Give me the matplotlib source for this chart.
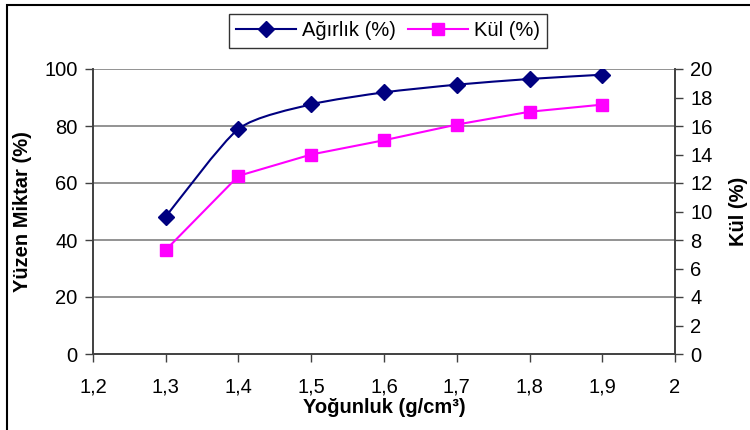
import matplotlib
matplotlib.use("Agg")
import matplotlib.pyplot as plt
from matplotlib.path import Path
from matplotlib.patches import PathPatch, Rectangle
from matplotlib.lines import Line2D
import numpy as np

plt.rcParams['font.family'] = ['Liberation Sans', 'DejaVu Sans']

density = [1.3, 1.4, 1.5, 1.6, 1.7, 1.8, 1.9]
agirlik = [48.2, 79.0, 87.6, 91.8, 94.5, 96.5, 98.0]
kul = [7.3, 12.5, 14.0, 15.0, 16.1, 17.0, 17.5]
xticks = [1.2, 1.3, 1.4, 1.5, 1.6, 1.7, 1.8, 1.9, 2.0]
xticklabels = ['1,2', '1,3', '1,4', '1,5', '1,6', '1,7', '1,8', '1,9', '2']

navy = '#000080'
magenta = '#FF00FF'
grid_c = '#808080'
fs = 14.5

fig = plt.figure(figsize=(7.5, 4.3), dpi=100)
ax = fig.add_axes([93/750, 1-354/430, (675-93)/750, (354-69)/430])
ax2 = ax.twinx()

ax.set_xlim(1.2, 2.0)
ax.set_ylim(0, 100)
ax2.set_ylim(0, 20)

for y in range(20, 101, 20):
    ax.axhline(y, color=grid_c, lw=1.2, zorder=0)

# smoothed line (bezier smoothing like Excel)
pts = np.column_stack([density, agirlik])
verts = [tuple(pts[0])]
codes = [Path.MOVETO]
n = len(pts)
k = 1 / 9
for i in range(n - 1):
    p0 = pts[i - 1] if i > 0 else pts[i]
    p1 = pts[i]
    p2 = pts[i + 1]
    p3 = pts[i + 2] if i + 2 < n else pts[i + 1]
    c1 = p1 + (p2 - p0) * k
    c2 = p2 - (p3 - p1) * k
    verts += [tuple(c1), tuple(c2), tuple(p2)]
    codes += [Path.CURVE4] * 3
patch = PathPatch(Path(verts, codes), fill=False, edgecolor=navy, lw=1.5,
                  transform=ax.transData, zorder=3)
ax.add_patch(patch)
ax.plot(density, agirlik, ls='none', marker='D', ms=8, color=navy, zorder=4)

ax2.plot(density, kul, color=magenta, lw=1.5, marker='s', ms=9, zorder=4)

ax.set_xticks(xticks)
ax.set_xticklabels(xticklabels)
ax.set_yticks(range(0, 101, 20))
ax2.set_yticks(range(0, 21, 2))

for a in (ax, ax2):
    a.spines['top'].set_visible(False)
    for s in a.spines.values():
        s.set_color('#404040')
        s.set_linewidth(1.2)
    a.tick_params(labelsize=fs, colors='black', length=6, width=1, color='#404040', pad=5)
ax.tick_params(axis='x', pad=11)
ax.tick_params(axis='both', direction='out')
ax2.tick_params(axis='y', direction='out')

ax.set_ylabel('Yüzen Miktar (%)', fontsize=fs, fontweight='bold', labelpad=9)
ax2.set_ylabel('Kül (%)', fontsize=fs, fontweight='bold', labelpad=12)
ax.set_xlabel('Yoğunluk (g/cm³)', fontsize=fs, fontweight='bold', labelpad=1)

h1 = Line2D([], [], color=navy, lw=1.5, marker='D', ms=8)
h2 = Line2D([], [], color=magenta, lw=1.5, marker='s', ms=9)
leg = fig.legend([h1, h2], ['Ağırlık (%)', 'Kül (%)'], loc='center',
                 bbox_to_anchor=(388/750, 1-31/430), ncol=2, fontsize=fs,
                 frameon=True, fancybox=False, edgecolor='black',
                 handlelength=3, columnspacing=0.6, handletextpad=0.3,
                 borderpad=0.35)
leg.get_frame().set_linewidth(1.0)

fig.patches.append(Rectangle((7/750, -0.1), 1.2, 1-5/430+0.1, transform=fig.transFigure,
                             fill=False, edgecolor='black', lw=1.5))

fig.savefig('out.png', dpi=100)
